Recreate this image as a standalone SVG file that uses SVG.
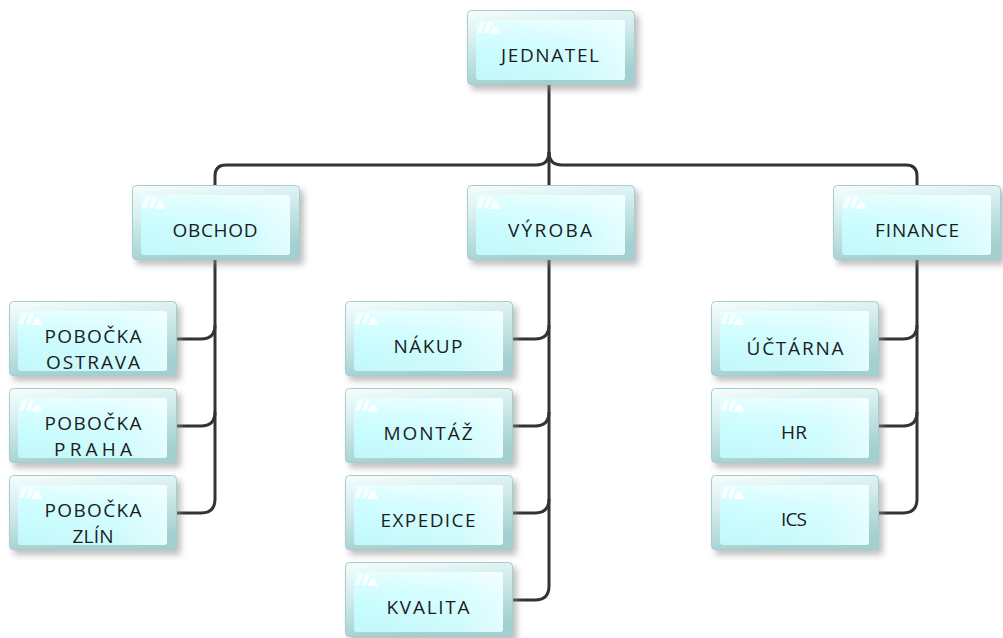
<svg xmlns="http://www.w3.org/2000/svg" width="1003" height="638" viewBox="0 0 1003 638">
  <defs>
    <linearGradient id="frameGrad" x1="0" y1="0" x2="0.3" y2="1">
      <stop offset="0" stop-color="#f6fdfd"/>
      <stop offset="0.4" stop-color="#d6eeee"/>
      <stop offset="1" stop-color="#a2d0d0"/>
    </linearGradient>
    <linearGradient id="faceGrad" x1="0" y1="0" x2="0" y2="1">
      <stop offset="0" stop-color="#e4ffff"/>
      <stop offset="0.3" stop-color="#d2fdff"/>
      <stop offset="0.55" stop-color="#c8fcfe"/>
      <stop offset="1" stop-color="#c2f8fa"/>
    </linearGradient>
    <linearGradient id="glossGrad" x1="0" y1="0" x2="1" y2="0">
      <stop offset="0" stop-color="#ffffff" stop-opacity="0"/>
      <stop offset="0.7" stop-color="#ffffff" stop-opacity="0.2"/>
      <stop offset="1" stop-color="#ffffff" stop-opacity="0.55"/>
    </linearGradient>
    <filter id="soft" x="-20%" y="-20%" width="140%" height="150%">
      <feGaussianBlur stdDeviation="3"/>
    </filter>
  </defs>
  <style>
    .shadow { fill: #8c8c8c; opacity: 0.55; filter: url(#soft); }
    .frame { fill: url(#frameGrad); stroke: #a6cccc; stroke-width: 1; }
    .face { fill: url(#faceGrad); }
    .gloss { fill: url(#glossGrad); }
    .icon { fill: #ffffff; opacity: 0.9; }
    .label { font-family: "Open Sans", "DejaVu Sans", sans-serif; font-size: 19px; fill: #1c1c1c; text-anchor: middle; }
    .wire { fill: none; stroke: #333333; stroke-width: 3; stroke-linecap: butt; }
  </style>

  <!-- connectors -->
  <g id="connectors">
    <!-- top level -->
    <path class="wire" d="M549,85 L549,185"/>
    <path class="wire" d="M549,152 Q549,165 536,165 L226,165 Q215,165 215,176 L215,185"/>
    <path class="wire" d="M549,152 Q549,165 562,165 L906,165 Q917,165 917,176 L917,185"/>
    <!-- OBCHOD branch -->
    <path class="wire" d="M215,260 L215,499 Q215,513 201,513 L177,513"/>
    <path class="wire" d="M177,339 L201,339 Q215,339 215,325"/>
    <path class="wire" d="M177,426 L201,426 Q215,426 215,412"/>
    <!-- VÝROBA branch -->
    <path class="wire" d="M549,260 L549,586 Q549,600 535,600 L513,600"/>
    <path class="wire" d="M513,339 L535,339 Q549,339 549,325"/>
    <path class="wire" d="M513,426 L535,426 Q549,426 549,412"/>
    <path class="wire" d="M513,513 L535,513 Q549,513 549,499"/>
    <!-- FINANCE branch -->
    <path class="wire" d="M917,260 L917,499 Q917,513 903,513 L879,513"/>
    <path class="wire" d="M879,339 L903,339 Q917,339 917,325"/>
    <path class="wire" d="M879,426 L903,426 Q917,426 917,412"/>
  </g>

  <!-- node boxes: 168 x 75, drawn relative to their own origin -->
  <g id="jednatel" transform="translate(467,10)">
    <rect class="shadow" x="4" y="5" width="168" height="75" rx="4"/>
    <rect class="frame" x="0.5" y="0.5" width="167" height="74" rx="4"/>
    <rect class="face" x="9" y="10" width="149" height="60" rx="3"/>
    <rect class="gloss" x="9" y="10" width="149" height="60" rx="3"/>
    <path class="icon" d="M10,23 L14,12 L18,12 L14,23 Z M17,23 L21,12 L25,12 L21,23 Z M23,24 Q28,8 33,24 Z"/>
    <text class="label" x="83" y="52" textLength="98" lengthAdjust="spacing">JEDNATEL</text>
  </g>

  <g id="obchod" transform="translate(132,185)">
    <rect class="shadow" x="4" y="5" width="168" height="75" rx="4"/>
    <rect class="frame" x="0.5" y="0.5" width="167" height="74" rx="4"/>
    <rect class="face" x="9" y="10" width="149" height="60" rx="3"/>
    <rect class="gloss" x="9" y="10" width="149" height="60" rx="3"/>
    <path class="icon" d="M10,23 L14,12 L18,12 L14,23 Z M17,23 L21,12 L25,12 L21,23 Z M23,24 Q28,8 33,24 Z"/>
    <text class="label" x="83" y="52" textLength="85" lengthAdjust="spacing">OBCHOD</text>
  </g>

  <g id="vyroba" transform="translate(467,185)">
    <rect class="shadow" x="4" y="5" width="168" height="75" rx="4"/>
    <rect class="frame" x="0.5" y="0.5" width="167" height="74" rx="4"/>
    <rect class="face" x="9" y="10" width="149" height="60" rx="3"/>
    <rect class="gloss" x="9" y="10" width="149" height="60" rx="3"/>
    <path class="icon" d="M10,23 L14,12 L18,12 L14,23 Z M17,23 L21,12 L25,12 L21,23 Z M23,24 Q28,8 33,24 Z"/>
    <text class="label" x="83" y="52" textLength="84" lengthAdjust="spacing">VÝROBA</text>
  </g>

  <g id="finance" transform="translate(833,185)">
    <rect class="shadow" x="4" y="5" width="168" height="75" rx="4"/>
    <rect class="frame" x="0.5" y="0.5" width="167" height="74" rx="4"/>
    <rect class="face" x="9" y="10" width="149" height="60" rx="3"/>
    <rect class="gloss" x="9" y="10" width="149" height="60" rx="3"/>
    <path class="icon" d="M10,23 L14,12 L18,12 L14,23 Z M17,23 L21,12 L25,12 L21,23 Z M23,24 Q28,8 33,24 Z"/>
    <text class="label" x="84" y="52" textLength="84" lengthAdjust="spacing">FINANCE</text>
  </g>

  <!-- OBCHOD children -->
  <g id="pobocka-ostrava" transform="translate(9,301)">
    <rect class="shadow" x="4" y="5" width="168" height="75" rx="4"/>
    <rect class="frame" x="0.5" y="0.5" width="167" height="74" rx="4"/>
    <rect class="face" x="9" y="10" width="149" height="60" rx="3"/>
    <rect class="gloss" x="9" y="10" width="149" height="60" rx="3"/>
    <path class="icon" d="M10,23 L14,12 L18,12 L14,23 Z M17,23 L21,12 L25,12 L21,23 Z M23,24 Q28,8 33,24 Z"/>
    <text class="label" x="84" y="42" textLength="97" lengthAdjust="spacing">POBOČKA</text>
    <text class="label" x="84" y="68" textLength="94" lengthAdjust="spacing">OSTRAVA</text>
  </g>

  <g id="pobocka-praha" transform="translate(9,388)">
    <rect class="shadow" x="4" y="5" width="168" height="75" rx="4"/>
    <rect class="frame" x="0.5" y="0.5" width="167" height="74" rx="4"/>
    <rect class="face" x="9" y="10" width="149" height="60" rx="3"/>
    <rect class="gloss" x="9" y="10" width="149" height="60" rx="3"/>
    <path class="icon" d="M10,23 L14,12 L18,12 L14,23 Z M17,23 L21,12 L25,12 L21,23 Z M23,24 Q28,8 33,24 Z"/>
    <text class="label" x="84" y="42" textLength="97" lengthAdjust="spacing">POBOČKA</text>
    <text class="label" x="84" y="68" textLength="78" lengthAdjust="spacing">PRAHA</text>
  </g>

  <g id="pobocka-zlin" transform="translate(9,475)">
    <rect class="shadow" x="4" y="5" width="168" height="75" rx="4"/>
    <rect class="frame" x="0.5" y="0.5" width="167" height="74" rx="4"/>
    <rect class="face" x="9" y="10" width="149" height="60" rx="3"/>
    <rect class="gloss" x="9" y="10" width="149" height="60" rx="3"/>
    <path class="icon" d="M10,23 L14,12 L18,12 L14,23 Z M17,23 L21,12 L25,12 L21,23 Z M23,24 Q28,8 33,24 Z"/>
    <text class="label" x="84" y="42" textLength="97" lengthAdjust="spacing">POBOČKA</text>
    <text class="label" x="84" y="68" textLength="41" lengthAdjust="spacing">ZLÍN</text>
  </g>

  <!-- VÝROBA children -->
  <g id="nakup" transform="translate(345,301)">
    <rect class="shadow" x="4" y="5" width="168" height="75" rx="4"/>
    <rect class="frame" x="0.5" y="0.5" width="167" height="74" rx="4"/>
    <rect class="face" x="9" y="10" width="149" height="60" rx="3"/>
    <rect class="gloss" x="9" y="10" width="149" height="60" rx="3"/>
    <path class="icon" d="M10,23 L14,12 L18,12 L14,23 Z M17,23 L21,12 L25,12 L21,23 Z M23,24 Q28,8 33,24 Z"/>
    <text class="label" x="83" y="52" textLength="69" lengthAdjust="spacing">NÁKUP</text>
  </g>

  <g id="montaz" transform="translate(345,388)">
    <rect class="shadow" x="4" y="5" width="168" height="75" rx="4"/>
    <rect class="frame" x="0.5" y="0.5" width="167" height="74" rx="4"/>
    <rect class="face" x="9" y="10" width="149" height="60" rx="3"/>
    <rect class="gloss" x="9" y="10" width="149" height="60" rx="3"/>
    <path class="icon" d="M10,23 L14,12 L18,12 L14,23 Z M17,23 L21,12 L25,12 L21,23 Z M23,24 Q28,8 33,24 Z"/>
    <text class="label" x="83" y="52" textLength="89" lengthAdjust="spacing">MONTÁŽ</text>
  </g>

  <g id="expedice" transform="translate(345,475)">
    <rect class="shadow" x="4" y="5" width="168" height="75" rx="4"/>
    <rect class="frame" x="0.5" y="0.5" width="167" height="74" rx="4"/>
    <rect class="face" x="9" y="10" width="149" height="60" rx="3"/>
    <rect class="gloss" x="9" y="10" width="149" height="60" rx="3"/>
    <path class="icon" d="M10,23 L14,12 L18,12 L14,23 Z M17,23 L21,12 L25,12 L21,23 Z M23,24 Q28,8 33,24 Z"/>
    <text class="label" x="83" y="52" textLength="95" lengthAdjust="spacing">EXPEDICE</text>
  </g>

  <g id="kvalita" transform="translate(345,562)">
    <rect class="shadow" x="4" y="5" width="168" height="75" rx="4"/>
    <rect class="frame" x="0.5" y="0.5" width="167" height="74" rx="4"/>
    <rect class="face" x="9" y="10" width="149" height="60" rx="3"/>
    <rect class="gloss" x="9" y="10" width="149" height="60" rx="3"/>
    <path class="icon" d="M10,23 L14,12 L18,12 L14,23 Z M17,23 L21,12 L25,12 L21,23 Z M23,24 Q28,8 33,24 Z"/>
    <text class="label" x="83" y="52" textLength="83" lengthAdjust="spacing">KVALITA</text>
  </g>

  <!-- FINANCE children -->
  <g id="uctarna" transform="translate(711,301)">
    <rect class="shadow" x="4" y="5" width="168" height="75" rx="4"/>
    <rect class="frame" x="0.5" y="0.5" width="167" height="74" rx="4"/>
    <rect class="face" x="9" y="10" width="149" height="60" rx="3"/>
    <rect class="gloss" x="9" y="10" width="149" height="60" rx="3"/>
    <path class="icon" d="M10,23 L14,12 L18,12 L14,23 Z M17,23 L21,12 L25,12 L21,23 Z M23,24 Q28,8 33,24 Z"/>
    <text class="label" x="84" y="54" textLength="97" lengthAdjust="spacing">ÚČTÁRNA</text>
  </g>

  <g id="hr" transform="translate(711,388)">
    <rect class="shadow" x="4" y="5" width="168" height="75" rx="4"/>
    <rect class="frame" x="0.5" y="0.5" width="167" height="74" rx="4"/>
    <rect class="face" x="9" y="10" width="149" height="60" rx="3"/>
    <rect class="gloss" x="9" y="10" width="149" height="60" rx="3"/>
    <path class="icon" d="M10,23 L14,12 L18,12 L14,23 Z M17,23 L21,12 L25,12 L21,23 Z M23,24 Q28,8 33,24 Z"/>
    <text class="label" x="83" y="51" textLength="26" lengthAdjust="spacing">HR</text>
  </g>

  <g id="ics" transform="translate(711,475)">
    <rect class="shadow" x="4" y="5" width="168" height="75" rx="4"/>
    <rect class="frame" x="0.5" y="0.5" width="167" height="74" rx="4"/>
    <rect class="face" x="9" y="10" width="149" height="60" rx="3"/>
    <rect class="gloss" x="9" y="10" width="149" height="60" rx="3"/>
    <path class="icon" d="M10,23 L14,12 L18,12 L14,23 Z M17,23 L21,12 L25,12 L21,23 Z M23,24 Q28,8 33,24 Z"/>
    <text class="label" x="83" y="51" textLength="26" lengthAdjust="spacing">ICS</text>
  </g>
</svg>
